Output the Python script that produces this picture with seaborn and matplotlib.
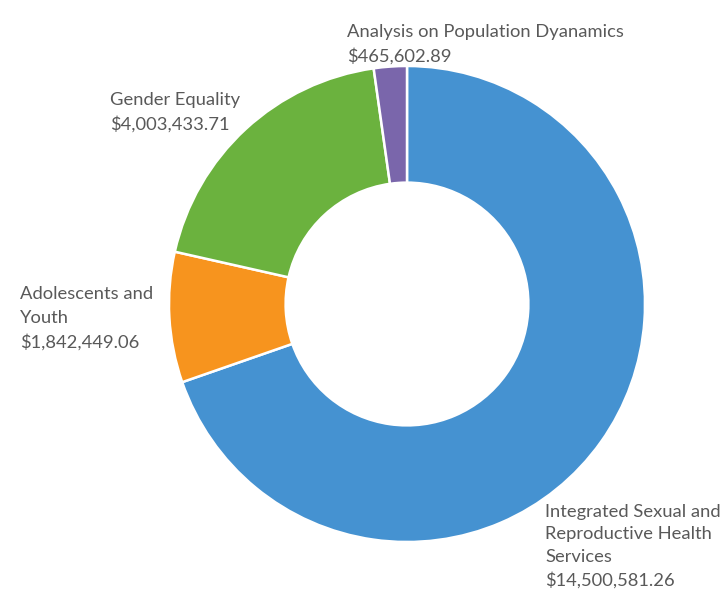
import matplotlib
matplotlib.use("Agg")
import matplotlib.pyplot as plt
import seaborn as sns

# === DATA ===
categories = [
    "Integrated Sexual and\nReproductive Health\nServices",
    "Adolescents and\nYouth",
    "Gender Equality",
    "Analysis on Population Dyanamics",
]
amounts = [14500581.26, 1842449.06, 4003433.71, 465602.89]
colors = ["#4592D1", "#F7941E", "#6BB23E", "#7A66AB"]

# label anchor (pixels from top-left of the image)
label_pos = [(545, 504), (20, 286), (110, 92), (347, 24)]

W, H = 725, 591
DPI = 100

sns.set_theme(style="white")
plt.rcParams["font.family"] = ["Lato", "DejaVu Sans"]

fig = plt.figure(figsize=(W / DPI, H / DPI), dpi=DPI)
fig.patch.set_facecolor("white")

# donut centre ~ (407, 304) px, outer radius ~238 px
cx, cy, r = 407, 304, 238
ax = fig.add_axes([(cx - r) / W, (H - cy - r) / H, 2 * r / W, 2 * r / H])

ax.pie(
    amounts,
    colors=colors,
    startangle=90,
    counterclock=False,
    radius=1.0,
    wedgeprops=dict(width=0.49, edgecolor="white", linewidth=1.8),
)
ax.set_xlim(-1, 1)
ax.set_ylim(-1, 1)
ax.axis("off")

for i, (name, amt, (px, py)) in enumerate(zip(categories, amounts, label_pos)):
    # bottom-right label sits at the image edge, keep it just inside
    ls = 1.5 if i == 0 else 1.58
    fig.text(px / W, 1 - py / H, f"{name}\n${amt:,.2f}",
             ha="left", va="top", fontsize=13.2, color="#595959",
             linespacing=ls)

fig.savefig("out.png", dpi=DPI, facecolor="white")
